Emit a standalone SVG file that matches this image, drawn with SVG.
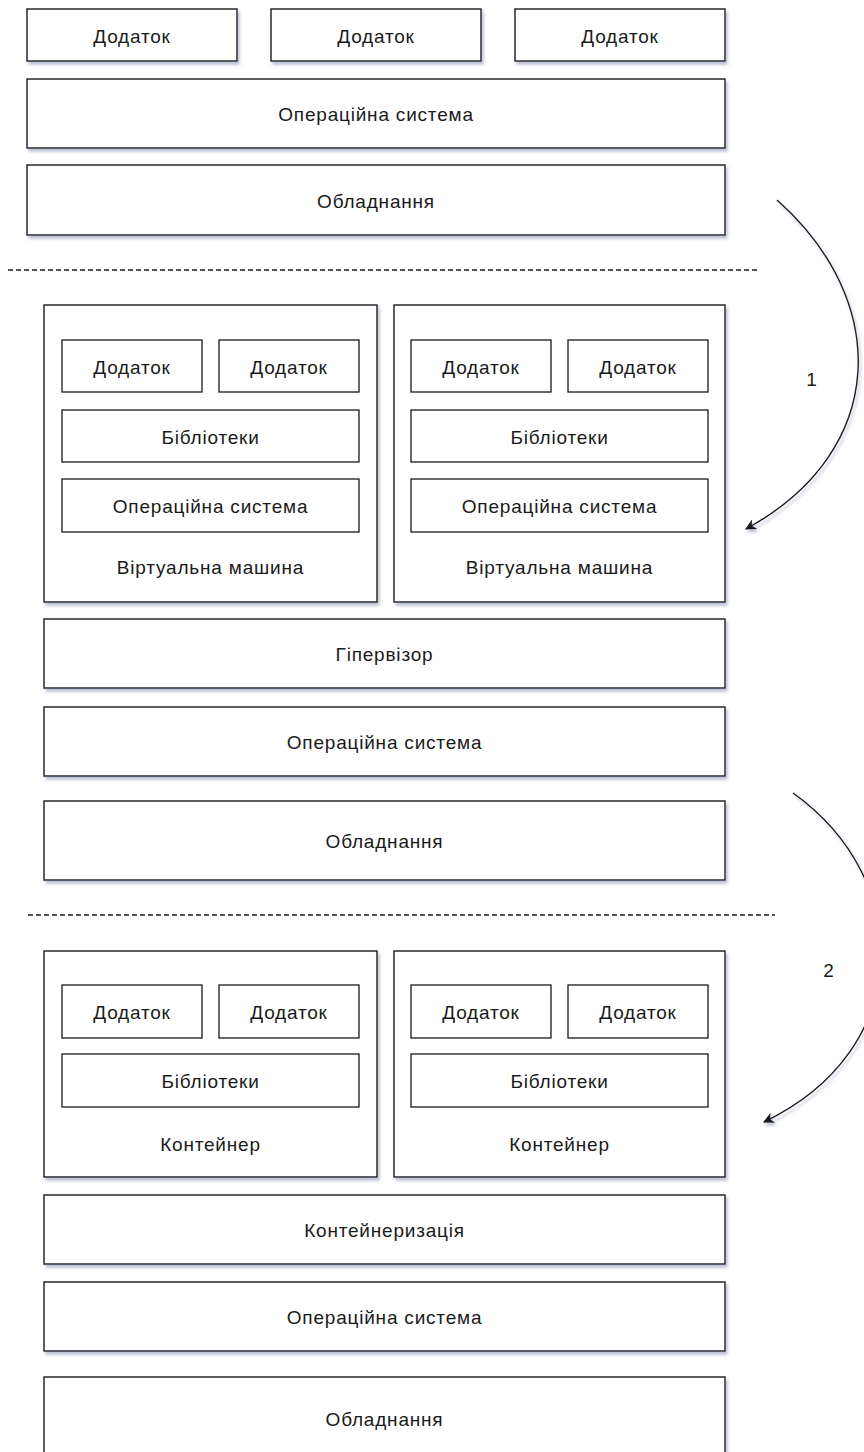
<svg xmlns="http://www.w3.org/2000/svg" width="864" height="1452" viewBox="0 0 864 1452">
  <style>
    .box { fill: #ffffff; stroke: #1a1a1a; stroke-width: 1.4; filter: url(#shadow); }
    .inner { fill: #ffffff; stroke: #1a1a1a; stroke-width: 1.3; }
    .lbl { font-family: "Liberation Sans", Arial, sans-serif; font-size: 19px; letter-spacing: 0.8px; fill: #1a1a1a; text-anchor: middle; dominant-baseline: central; }
    .sep { stroke: #1a1a1a; stroke-width: 1.3; stroke-dasharray: 5 3; fill: none; }
    .edge { stroke: #1a1a1a; stroke-width: 1.4; fill: none; marker-end: url(#arrow); filter: url(#shadow); }
  </style>
  <defs>
    <filter id="shadow" x="-10%" y="-10%" width="130%" height="130%">
      <feDropShadow dx="2" dy="3" stdDeviation="1.6" flood-color="#7880a8" flood-opacity="0.5"/>
    </filter>
    <marker id="arrow" viewBox="0 0 10 10" refX="9" refY="5" markerWidth="11" markerHeight="11" markerUnits="userSpaceOnUse" orient="auto">
      <path d="M0,0 L10,5 L0,10 L3,5 Z" fill="#1a1a1a"/>
    </marker>
  </defs>

  <!-- Layer 1: bare metal -->
  <g id="app-top-1"><rect class="box" x="27" y="9" width="210" height="52"/><text class="lbl" x="132" y="36">Додаток</text></g>
  <g id="app-top-2"><rect class="box" x="271" y="9" width="210" height="52"/><text class="lbl" x="376" y="36">Додаток</text></g>
  <g id="app-top-3"><rect class="box" x="515" y="9" width="210" height="52"/><text class="lbl" x="620" y="36">Додаток</text></g>
  <g id="os-top"><rect class="box" x="27" y="79" width="698" height="69"/><text class="lbl" x="376" y="114.5">Операційна система</text></g>
  <g id="hw-top"><rect class="box" x="27" y="165" width="698" height="70"/><text class="lbl" x="376" y="201">Обладнання</text></g>

  <!-- Layer 2: virtual machines -->
  <g id="vm-1">
    <rect class="box" x="44" y="305" width="333" height="297"/>
    <rect class="inner" x="62" y="340" width="140" height="52"/><text class="lbl" x="132" y="367">Додаток</text>
    <rect class="inner" x="219" y="340" width="140" height="52"/><text class="lbl" x="289" y="367">Додаток</text>
    <rect class="inner" x="62" y="410" width="297" height="52"/><text class="lbl" x="210.5" y="437">Бібліотеки</text>
    <rect class="inner" x="62" y="479" width="297" height="53"/><text class="lbl" x="210.5" y="506.5">Операційна система</text>
    <text class="lbl" x="210.5" y="567">Віртуальна машина</text>
  </g>
  <g id="vm-2">
    <rect class="box" x="394" y="305" width="331" height="297"/>
    <rect class="inner" x="411" y="340" width="140" height="52"/><text class="lbl" x="481" y="367">Додаток</text>
    <rect class="inner" x="568" y="340" width="140" height="52"/><text class="lbl" x="638" y="367">Додаток</text>
    <rect class="inner" x="411" y="410" width="297" height="52"/><text class="lbl" x="559.5" y="437">Бібліотеки</text>
    <rect class="inner" x="411" y="479" width="297" height="53"/><text class="lbl" x="559.5" y="506.5">Операційна система</text>
    <text class="lbl" x="559.5" y="567">Віртуальна машина</text>
  </g>
  <g id="hypervisor"><rect class="box" x="44" y="619" width="681" height="69"/><text class="lbl" x="384.5" y="654.5">Гіпервізор</text></g>
  <g id="os-vm"><rect class="box" x="44" y="707" width="681" height="69"/><text class="lbl" x="384.5" y="742.5">Операційна система</text></g>
  <g id="hw-vm"><rect class="box" x="44" y="801" width="681" height="79"/><text class="lbl" x="384.5" y="841.5">Обладнання</text></g>

  <!-- Layer 3: containers -->
  <g id="ct-1">
    <rect class="box" x="44" y="951" width="333" height="226"/>
    <rect class="inner" x="62" y="985" width="140" height="53"/><text class="lbl" x="132" y="1012.5">Додаток</text>
    <rect class="inner" x="219" y="985" width="140" height="53"/><text class="lbl" x="289" y="1012.5">Додаток</text>
    <rect class="inner" x="62" y="1054" width="297" height="53"/><text class="lbl" x="210.5" y="1081.5">Бібліотеки</text>
    <text class="lbl" x="210.5" y="1144">Контейнер</text>
  </g>
  <g id="ct-2">
    <rect class="box" x="394" y="951" width="331" height="226"/>
    <rect class="inner" x="411" y="985" width="140" height="53"/><text class="lbl" x="481" y="1012.5">Додаток</text>
    <rect class="inner" x="568" y="985" width="140" height="53"/><text class="lbl" x="638" y="1012.5">Додаток</text>
    <rect class="inner" x="411" y="1054" width="297" height="53"/><text class="lbl" x="559.5" y="1081.5">Бібліотеки</text>
    <text class="lbl" x="559.5" y="1144">Контейнер</text>
  </g>
  <g id="containerization"><rect class="box" x="44" y="1195" width="681" height="69"/><text class="lbl" x="384.5" y="1230.5">Контейнеризація</text></g>
  <g id="os-ct"><rect class="box" x="44" y="1282" width="681" height="69"/><text class="lbl" x="384.5" y="1317.5">Операційна система</text></g>
  <g id="hw-ct"><rect class="box" x="44" y="1377" width="681" height="90"/><text class="lbl" x="384.5" y="1419">Обладнання</text></g>

  <!-- Separators and transition arrows -->
  <g id="connectors">
    <line class="sep" x1="8" y1="270" x2="760" y2="270"/>
    <line class="sep" x1="28" y1="915" x2="775" y2="915"/>
    <path class="edge" d="M777,200 C890,300 890,450 746,529"/>
    <text class="lbl" x="812" y="379">1</text>
    <path class="edge" d="M793,793 C915,880 915,1050 764,1122"/>
    <text class="lbl" x="829" y="970">2</text>
  </g>
</svg>
